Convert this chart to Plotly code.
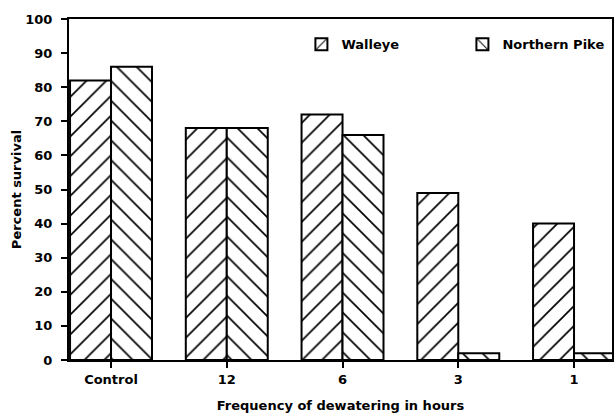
import plotly.graph_objects as go

# Survival of walleye and northern pike eggs under periodic dewatering
categories = ["Control", "12", "6", "3", "1"]
walleye = [82, 68, 72, 49, 40]
northern_pike = [86, 68, 66, 2, 2]
y_ticks = [0, 10, 20, 30, 40, 50, 60, 70, 80, 90, 100]

FONT = "DejaVu Sans, Verdana, sans-serif"


def hatch(shape):
    return dict(shape=shape, fgcolor="black", bgcolor="white", fgopacity=1,
                size=14, solidity=0.12)


fig = go.Figure()
fig.add_trace(go.Bar(
    name="Walleye", x=categories, y=walleye,
    marker=dict(color="white", line=dict(color="black", width=2),
                pattern=hatch("/")),
))
fig.add_trace(go.Bar(
    name="Northern Pike", x=categories, y=northern_pike,
    marker=dict(color="white", line=dict(color="black", width=2),
                pattern=hatch("\\")),
))

fig.update_layout(
    width=614, height=413,
    margin=dict(l=69, r=2, t=19, b=53, autoexpand=False),
    paper_bgcolor="white", plot_bgcolor="white",
    barmode="group", bargap=0.292, bargroupgap=0,
    font=dict(family=FONT, size=13, color="black", weight="bold"),
    legend=dict(orientation="h", x=0.428, y=0.97, xanchor="left", yanchor="top",
                bgcolor="rgba(0,0,0,0)", entrywidth=116, entrywidthmode="pixels",
                font=dict(family=FONT, size=13, color="black", weight="bold")),
    xaxis=dict(
        type="category", range=[-0.363, 4.328],
        showline=True, linecolor="black", linewidth=2, mirror=True,
        ticks="outside", ticklen=6, tickwidth=2, tickcolor="black",
        showgrid=False, zeroline=False,
        title=dict(text="Frequency of dewatering in hours", standoff=15,
                   font=dict(family=FONT, size=13, weight="bold")),
    ),
    yaxis=dict(
        range=[0, 100], tickvals=y_ticks,
        showline=True, linecolor="black", linewidth=2, mirror=True,
        ticks="outside", ticklen=6, tickwidth=2, tickcolor="black",
        showgrid=False, zeroline=False, ticklabelstandoff=6,
        title=dict(text="Percent survival", standoff=1,
                   font=dict(family=FONT, size=13, weight="bold")),
    ),
)

fig.write_html("out.html")
